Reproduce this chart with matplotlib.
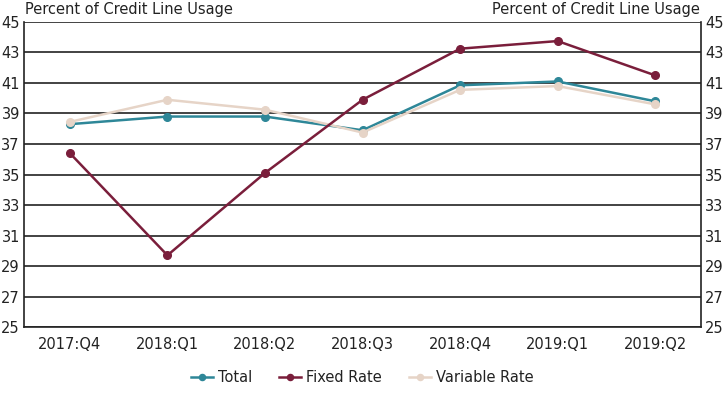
import matplotlib
matplotlib.use("Agg")
import matplotlib.pyplot as plt

categories = ["2017:Q4", "2018:Q1", "2018:Q2", "2018:Q3", "2018:Q4", "2019:Q1", "2019:Q2"]
total = [38.3, 38.8, 38.8, 37.9, 40.85, 41.1, 39.8]
fixed_rate = [36.4, 29.7, 35.1, 39.9, 43.25, 43.75, 41.5]
variable_rate = [38.45, 39.9, 39.25, 37.75, 40.55, 40.8, 39.6]
yticks = [25, 27, 29, 31, 33, 35, 37, 39, 41, 43, 45]

c_total = "#2E8798"
c_fixed = "#7A1E3B"
c_var = "#E6D4C7"

plt.rcParams['font.family'] = ['DejaVu Sans']

fig = plt.figure(figsize=(7.25, 3.97), dpi=100)
ax = fig.add_axes([0.0331, 0.1763, 0.9339, 0.7683])
x = list(range(len(categories)))

ax.plot(x, total, color=c_total, lw=1.8, marker='o', ms=5.5, label="Total", zorder=3)
ax.plot(x, fixed_rate, color=c_fixed, lw=1.8, marker='o', ms=5.5, label="Fixed Rate", zorder=4)
ax.plot(x, variable_rate, color=c_var, lw=1.8, marker='o', ms=5.5, label="Variable Rate", zorder=3)

ax.set_xlim(-0.47, 6.47)
ax.set_ylim(25, 45)
ax.set_yticks(yticks)
ax.set_xticks(x)
ax.set_xticklabels(categories)
ax.yaxis.grid(True, color="#222222", lw=1.2)
ax.set_axisbelow(True)
ax.tick_params(axis='both', length=0, labelsize=10.5, colors="#222222")
ax.tick_params(axis='x', pad=7)
ax.tick_params(axis='y', which='both', left=False, right=False, labelleft=True, labelright=True, pad=3)
for lab in ax.get_xticklabels() + ax.get_yticklabels():
    lab.set_fontfamily(['DejaVu Sans Condensed', 'DejaVu Sans'])
for lab in ax.yaxis.get_ticklabels(which='both'):
    lab.set_fontfamily(['DejaVu Sans Condensed', 'DejaVu Sans'])
for s in ['left', 'right', 'bottom']:
    ax.spines[s].set_color("#222222")
    ax.spines[s].set_linewidth(1.2)
ax.spines['top'].set_visible(False)

fig.text(0.034, 0.975, "Percent of Credit Line Usage", ha='left', va='center', fontsize=10.5, color="#222222")
fig.text(0.966, 0.975, "Percent of Credit Line Usage", ha='right', va='center', fontsize=10.5, color="#222222")

leg = fig.legend(loc='center', bbox_to_anchor=(0.5, 0.048), ncol=3, frameon=False,
                 fontsize=10.5, handlelength=1.5, handletextpad=0.35, columnspacing=1.85,
                 markerscale=0.8)
for t in leg.get_texts():
    t.set_color("#222222")
    t.set_fontfamily(['DejaVu Sans Condensed', 'DejaVu Sans'])

fig.savefig("out.png", dpi=100)
